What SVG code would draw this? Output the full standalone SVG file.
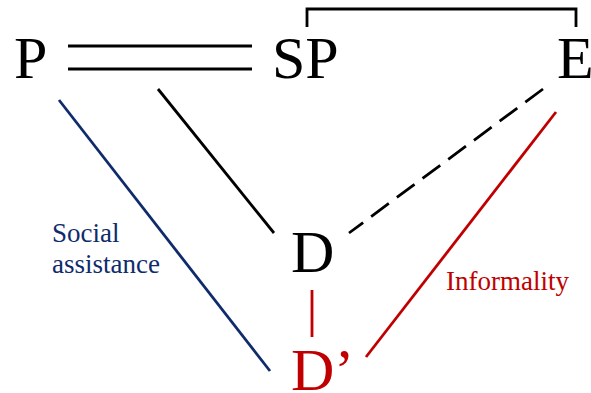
<svg xmlns="http://www.w3.org/2000/svg" width="591" height="393" viewBox="0 0 591 393">
<style>
text{font-family:'Liberation Serif',serif;}
.big{font-size:60px;}
.lbl{font-size:27px;}
.k{stroke:#000;stroke-width:2.8;fill:none;}
.b{stroke:#0f2b6b;stroke-width:2.8;fill:none;}
.r{stroke:#c00000;stroke-width:2.8;fill:none;}
</style>
<rect width="591" height="393" fill="#fff"/>
<g id="connectors">
<line class="k" x1="68" y1="46" x2="252" y2="46"/>
<line class="k" x1="68" y1="69" x2="252" y2="69"/>
<polyline class="k" points="307,27 307,9 576,9 576,27"/>
<line class="k" x1="158" y1="89" x2="274" y2="233"/>
<line class="k" x1="543" y1="89" x2="349" y2="233" stroke-dasharray="22,10"/>
<line class="b" x1="59" y1="100" x2="270" y2="371"/>
<line class="r" x1="556" y1="112" x2="366" y2="357"/>
<line class="r" x1="312" y1="290" x2="312" y2="337"/>
</g>
<g id="P"><text class="big" x="14" y="78">P</text></g>
<g id="SP"><text class="big" x="272" y="78">SP</text></g>
<g id="E"><text class="big" x="557" y="78">E</text></g>
<g id="D"><text class="big" x="291" y="272">D</text></g>
<g id="Dprime"><text class="big" x="291" y="390" fill="#c00000">D’</text></g>
<g id="label-social"><text class="lbl" fill="#0f2b6b"><tspan x="52" y="242">Social</tspan><tspan x="52" y="273">assistance</tspan></text></g>
<g id="label-informality"><text class="lbl" x="446" y="290" fill="#c00000">Informality</text></g>
</svg>
